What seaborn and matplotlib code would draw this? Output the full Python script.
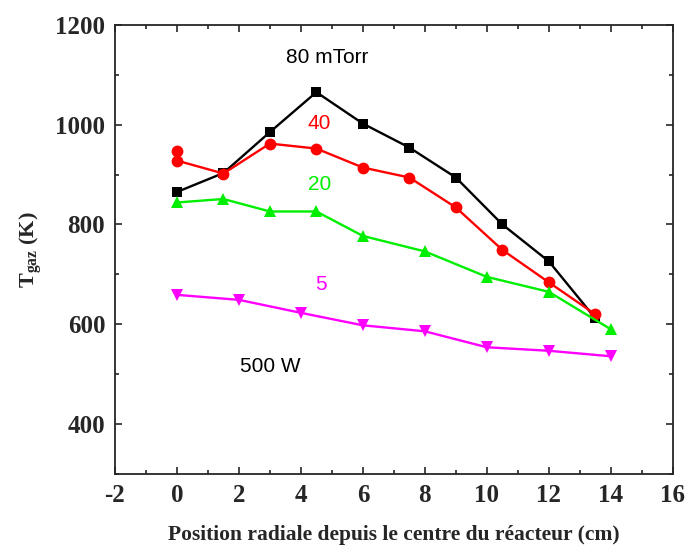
import pandas as pd
import numpy as np
from matplotlib import pyplot as plt
from matplotlib.ticker import MultipleLocator
import seaborn as sns

# 80 mTorr
x_80 = [0, 1.5, 3, 4.5, 6, 7.5, 9, 10.5, 12, 13.5]
t_80 = [865, 903, 985, 1065, 1002, 954, 894, 800, 726, 612]
# 40 mTorr
x_40 = [0, 0, 1.5, 3, 4.5, 6, 7.5, 9, 10.5, 12, 13.5]
t_40 = [948, 928, 902, 962, 952, 914, 894, 834, 749, 684, 620]
# 20 mTorr
x_20 = [0, 1.5, 3, 4.5, 6, 8, 10, 12, 14]
t_20 = [844, 851, 826, 826, 777, 746, 695, 665, 590]
# 5 mTorr
x_5 = [0, 2, 4, 6, 8, 10, 12, 14]
t_5 = [659, 649, 623, 598, 586, 554, 547, 536]

sns.set_style('ticks')
plt.rcParams['font.family'] = ['Liberation Serif', 'DejaVu Serif']
plt.rcParams['axes.unicode_minus'] = False
plt.rcParams['mathtext.fontset'] = 'custom'
plt.rcParams['mathtext.rm'] = 'Liberation Serif:bold'
plt.rcParams['mathtext.bf'] = 'Liberation Serif:bold'
plt.rcParams['mathtext.it'] = 'Liberation Serif:bold'

fig = plt.figure(figsize=(6.88, 5.5), dpi=100)
ax = fig.add_axes([0.167, 0.138, 0.811, 0.817])

series = [
    (x_80, t_80, 'black', 's', 7.5),
    (x_40, t_40, 'red', 'o', 8.5),
    (x_20, t_20, '#00ee00', '^', 8.5),
    (x_5, t_5, 'magenta', 'v', 8.5),
]
for xs, ys, col, mk, ms in series:
    df = pd.DataFrame({'x': xs, 'T': ys})
    sns.lineplot(data=df, x='x', y='T', ax=ax, estimator=None, sort=False,
                 color=col, marker=mk, markersize=ms, markeredgewidth=0,
                 linewidth=1.7)

lab = dict(family='Liberation Sans', fontsize=15)
ax.text(4.85, 1135, '80 mTorr', color='black', ha='center', va='center', **lab)
ax.text(4.6, 1002, '40', color='red', ha='center', va='center', **lab)
ax.text(4.6, 880, '20', color='#00ee00', ha='center', va='center', **lab)
ax.text(4.65, 680, '5', color='magenta', ha='center', va='center', **lab)
ax.text(3.0, 516, '500 W', color='black', ha='center', va='center', **lab)

ax.set_xlim(-2, 16)
ax.set_ylim(300, 1200)
ax.xaxis.set_major_locator(MultipleLocator(2))
ax.xaxis.set_minor_locator(MultipleLocator(1))
ax.yaxis.set_minor_locator(MultipleLocator(100))
ax.set_yticks([400, 600, 800, 1000, 1200])
ax.tick_params(which='both', direction='in', top=True, right=True, width=1.2)
ax.tick_params(which='major', length=5, labelsize=18, pad=7)
ax.tick_params(which='minor', length=3)
for lbl in ax.get_xticklabels() + ax.get_yticklabels():
    lbl.set_fontweight('bold')
for s in ax.spines.values():
    s.set_linewidth(1.3)

ax.set_xlabel('Position radiale depuis le centre du réacteur (cm)',
              fontsize=15.5, fontweight='bold', labelpad=13)
ax.set_ylabel(r'T$_{\mathbf{gaz}}$ (K)', fontsize=16, fontweight='bold', labelpad=8)

plt.savefig('out.png', dpi=100)
